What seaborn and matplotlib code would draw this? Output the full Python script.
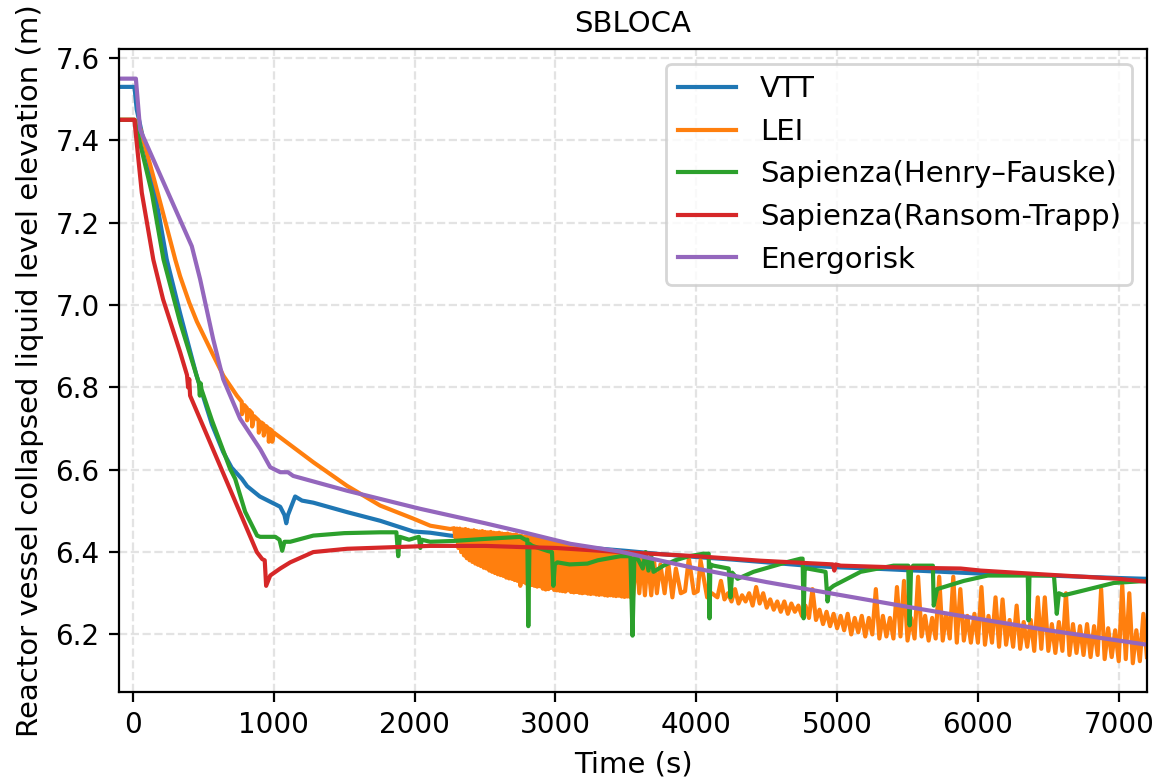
import numpy as np
import matplotlib
matplotlib.use("Agg")
import matplotlib.pyplot as plt
import seaborn as sns

# ---- VTT ----
vtt_t = [-100, 10, 26, 156, 239, 334, 450, 560, 640, 700, 772, 810, 900, 1045, 1075,
         1088, 1100, 1151, 1200, 1280, 1520, 1755, 1990, 2110, 2253, 2500, 2750, 3000,
         3250, 3500, 3750, 4000, 4250, 4500, 4750, 5000, 5250, 5500, 5750, 6000, 6250,
         6500, 6750, 7000, 7200]
vtt_v = [7.53, 7.53, 7.475, 7.273, 7.111, 6.98, 6.83, 6.71, 6.643, 6.605, 6.578, 6.56,
         6.535, 6.51, 6.49, 6.47, 6.49, 6.535, 6.525, 6.52, 6.497, 6.476, 6.45, 6.447,
         6.44, 6.432, 6.425, 6.418, 6.41, 6.403, 6.395, 6.388, 6.382, 6.375, 6.368,
         6.363, 6.36, 6.356, 6.352, 6.348, 6.346, 6.343, 6.34, 6.337, 6.335]

# ---- LEI: smooth early transient ----
lei_t = [-100, 12, 50, 130, 200, 300, 334, 400, 453, 571, 642, 737, 772, 774, 790, 808,
         810, 825, 844, 846, 860, 891, 893, 910, 926, 928, 945, 962, 964, 975, 986, 988,
         1000, 1281, 1519, 1755, 1992, 2111, 2253]
lei_v = [7.45, 7.45, 7.43, 7.33, 7.24, 7.11, 7.07, 7.005, 6.96, 6.877, 6.828, 6.78,
         6.765, 6.735, 6.757, 6.75, 6.72, 6.745, 6.738, 6.705, 6.73, 6.72, 6.69, 6.715,
         6.711, 6.683, 6.706, 6.70, 6.668, 6.698, 6.695, 6.668, 6.69, 6.618, 6.561,
         6.513, 6.481, 6.464, 6.456]

# LEI fast oscillation 2280-3550 s (10 s sampling): successive maxima and minima
lei_osc_hi = [6.458, 6.457, 6.457, 6.455, 6.456, 6.454, 6.452, 6.453, 6.451, 6.450,
              6.451, 6.449, 6.448, 6.449, 6.447, 6.446, 6.447, 6.445, 6.444, 6.445,
              6.443, 6.442, 6.443, 6.440, 6.439, 6.438, 6.437, 6.436, 6.435, 6.434,
              6.433, 6.431, 6.430, 6.428, 6.427, 6.426, 6.425, 6.424, 6.422, 6.420,
              6.419, 6.418, 6.417, 6.416, 6.414, 6.413, 6.412, 6.411, 6.410, 6.409,
              6.409, 6.408, 6.407, 6.406, 6.405, 6.404, 6.404, 6.402, 6.402, 6.401,
              6.400, 6.399, 6.399, 6.398]
lei_osc_lo = [6.435, 6.410, 6.400, 6.392, 6.385, 6.380, 6.376, 6.372, 6.369, 6.366,
              6.362, 6.360, 6.355, 6.352, 6.349, 6.346, 6.344, 6.342, 6.338, 6.336,
              6.335, 6.332, 6.330, 6.318, 6.327, 6.324, 6.322, 6.320, 6.318, 6.316,
              6.317, 6.311, 6.309, 6.310, 6.313, 6.308, 6.307, 6.306, 6.305, 6.304,
              6.307, 6.303, 6.302, 6.303, 6.301, 6.300, 6.301, 6.299, 6.298, 6.299,
              6.297, 6.296, 6.297, 6.295, 6.294, 6.295, 6.294, 6.293, 6.294, 6.292,
              6.291, 6.292, 6.291, 6.290]
lei_osc_start, lei_osc_step = 2280, 10

# LEI slower swings 3575-4150 s
lei_mid_t = [3575, 3595, 3615, 3635, 3655, 3680, 3700, 3720, 3745, 3775, 3800, 3830,
             3855, 3890, 3920, 3947, 3983, 4010, 4030, 4077, 4110, 4150]
lei_mid_v = [6.39, 6.30, 6.39, 6.295, 6.385, 6.295, 6.38, 6.30, 6.37, 6.30, 6.375, 6.29,
             6.36, 6.30, 6.305, 6.385, 6.30, 6.305, 6.38, 6.29, 6.30, 6.29]

# LEI late oscillation 4175-7200 s (25 s sampling): maxima and minima
lei_late_hi = [6.330, 6.300, 6.310, 6.295, 6.300, 6.315, 6.300, 6.285, 6.280, 6.280,
               6.275, 6.270, 6.270, 6.310, 6.260, 6.255, 6.250, 6.245, 6.250, 6.240,
               6.245, 6.240, 6.310, 6.245, 6.240, 6.315, 6.330, 6.240, 6.340, 6.245,
               6.240, 6.340, 6.250, 6.340, 6.310, 6.245, 6.250, 6.315, 6.245, 6.290,
               6.285, 6.235, 6.270, 6.230, 6.235, 6.290, 6.290, 6.225, 6.230, 6.300,
               6.225, 6.220, 6.225, 6.220, 6.310, 6.215, 6.210, 6.320, 6.300, 6.210,
               6.250]
lei_late_lo = [6.285, 6.280, 6.275, 6.280, 6.270, 6.275, 6.265, 6.260, 6.255, 6.250,
               6.255, 6.245, 6.240, 6.235, 6.225, 6.220, 6.215, 6.210, 6.200, 6.205,
               6.195, 6.200, 6.190, 6.195, 6.190, 6.195, 6.185, 6.190, 6.195, 6.185,
               6.190, 6.185, 6.190, 6.180, 6.185, 6.180, 6.180, 6.175, 6.180, 6.170,
               6.175, 6.170, 6.165, 6.170, 6.160, 6.165, 6.160, 6.155, 6.160, 6.150,
               6.155, 6.150, 6.145, 6.150, 6.140, 6.145, 6.135, 6.140, 6.130, 6.135,
               6.145]
lei_late_start, lei_late_step = 4175, 25

# ---- Sapienza (Henry–Fauske) ----
hf_t = [-100, 10, 133, 216, 334, 468, 474, 480, 486, 560, 689, 725, 796, 881, 903, 1010,
        1040, 1059, 1075, 1116, 1280, 1500, 1755, 1870, 1883, 1895, 1960, 2030, 2040,
        2050, 2110, 2275, 2500, 2750, 2786, 2800, 2807, 2815, 2835, 2942, 2975, 2985,
        2995, 3013, 3100, 3227, 3300, 3461, 3532, 3547, 3560, 3582, 3620, 3640, 3660,
        3680, 3696, 3767, 3850, 3950, 4051, 4088, 4094, 4100, 4122, 4230, 4243, 4255,
        4293, 4406, 4648, 4741, 4755, 4762, 4770, 4790, 4918, 4932, 4945, 4975, 5167,
        5401, 5505, 5515, 5525, 5540, 5680, 5686, 5710, 5900, 6070, 6354, 6360, 6366,
        6540, 6560, 6575, 6610, 6730, 6965, 7200]
hf_v = [7.45, 7.45, 7.273, 7.111, 6.958, 6.81, 6.78, 6.81, 6.795, 6.72, 6.602, 6.578,
        6.498, 6.44, 6.437, 6.437, 6.43, 6.403, 6.425, 6.425, 6.44, 6.446, 6.448, 6.448,
        6.39, 6.437, 6.43, 6.437, 6.41, 6.43, 6.425, 6.427, 6.432, 6.437, 6.43, 6.43,
        6.22, 6.42, 6.415, 6.403, 6.40, 6.318, 6.37, 6.375, 6.37, 6.372, 6.38, 6.39,
        6.39, 6.197, 6.385, 6.385, 6.36, 6.40, 6.355, 6.39, 6.352, 6.367, 6.38, 6.39,
        6.396, 6.396, 6.239, 6.37, 6.367, 6.36, 6.29, 6.35, 6.335, 6.352, 6.376, 6.384,
        6.384, 6.239, 6.36, 6.36, 6.352, 6.28, 6.31, 6.318, 6.352, 6.367, 6.367, 6.222,
        6.36, 6.367, 6.367, 6.27, 6.31, 6.33, 6.343, 6.343, 6.234, 6.343, 6.343, 6.25,
        6.30, 6.295, 6.305, 6.325, 6.33]

# ---- Sapienza (Ransom-Trapp) ----
rt_t = [-100, 10, 14, 62, 144, 213, 334, 383, 391, 399, 405, 642, 879, 917, 935, 945,
        974, 1045, 1116, 1280, 1520, 2110, 2500, 2772, 3000, 3461, 4000, 4456, 4970,
        4980, 4990, 5025, 5500, 5878, 6020, 6500, 7000, 7200]
rt_v = [7.45, 7.45, 7.434, 7.273, 7.11, 7.014, 6.886, 6.83, 6.80, 6.82, 6.78, 6.59,
        6.40, 6.383, 6.38, 6.318, 6.343, 6.36, 6.375, 6.40, 6.408, 6.415, 6.415, 6.412,
        6.41, 6.40, 6.39, 6.379, 6.37, 6.355, 6.37, 6.367, 6.362, 6.36, 6.355, 6.345,
        6.335, 6.328]

# ---- Energorisk ----
en_t = [-100, 20, 50, 417, 476, 569, 640, 760, 903, 974, 1045, 1100, 1137, 1520, 2040,
        2500, 2750, 3106, 3461, 4000, 4500, 5000, 5500, 6000, 6500, 7000, 7200]
en_v = [7.55, 7.55, 7.426, 7.143, 7.063, 6.917, 6.82, 6.724, 6.65, 6.606, 6.594, 6.594,
        6.585, 6.549, 6.505, 6.47, 6.45, 6.42, 6.401, 6.36, 6.327, 6.297, 6.267, 6.238,
        6.21, 6.185, 6.175]

labels = ["VTT", "LEI", "Sapienza(Henry–Fauske)", "Sapienza(Ransom-Trapp)", "Energorisk"]


def interleave(hi, lo):
    out = np.empty(len(hi) + len(lo))
    out[0::2] = hi
    out[1::2] = lo
    return out


# assemble the full LEI trace from its pieces
osc_v = interleave(lei_osc_hi, lei_osc_lo)
osc_t = lei_osc_start + lei_osc_step * np.arange(len(osc_v))
late_v = interleave(lei_late_hi, lei_late_lo)
late_t = lei_late_start + lei_late_step * np.arange(len(late_v))
lei_full_t = np.concatenate([lei_t, osc_t, lei_mid_t, late_t])
lei_full_v = np.concatenate([lei_v, osc_v, lei_mid_v, late_v])

series = [
    (vtt_t, vtt_v),
    (lei_full_t, lei_full_v),
    (hf_t, hf_v),
    (rt_t, rt_v),
    (en_t, en_v),
]

plt.rcParams["font.family"] = ["DejaVu Sans"]
plt.rcParams["font.size"] = 10

fig, ax = plt.subplots(figsize=(5.81, 3.92), dpi=200)
fig.subplots_adjust(left=0.1024, right=0.987, bottom=0.1173, top=0.9375)

colors = sns.color_palette("tab10", 5)
for (t, v), lab, c in zip(series, labels, colors):
    sns.lineplot(x=np.asarray(t, dtype=float), y=np.asarray(v, dtype=float), ax=ax,
                 color=c, label=lab, linewidth=1.5, estimator=None, sort=False)

ax.set_xlim(-100, 7200)
ax.set_ylim(6.06, 7.622)
ax.set_xticks(np.arange(0, 7001, 1000))
ax.set_yticks(np.arange(6.2, 7.61, 0.2))
ax.tick_params(labelsize=10)
ax.grid(True, linestyle="--", color="#b0b0b0", alpha=0.35, linewidth=0.8)
ax.set_xlabel("Time (s)", fontsize=10.5)
ax.set_ylabel("Reactor vessel collapsed liquid level elevation (m)", fontsize=10.5)
ax.set_title("SBLOCA", fontsize=10.5)
ax.legend(loc="upper right", fontsize=10.5)

fig.savefig("out.png", dpi=200)
